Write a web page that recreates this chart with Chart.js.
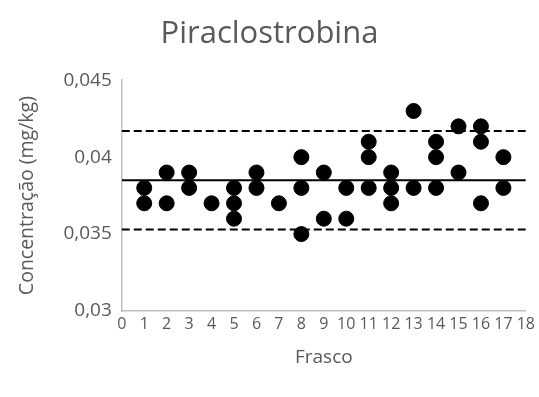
<!DOCTYPE html>
<html>
<head>
<meta charset="utf-8">
<script src="https://cdn.jsdelivr.net/npm/chart.js@4"></script>
<style>
  body { margin: 0; background: #fff; }
  #wrap { width: 539px; height: 397px; }
</style>
</head>
<body>
<div id="wrap"><canvas id="myChart"></canvas></div>
<script>
let frascos = [1, 1, 2, 2, 3, 3, 4, 5, 5, 5, 6, 6, 7, 8, 8, 8, 9, 9, 10, 10, 11, 11, 11, 12, 12, 12, 13, 13, 14, 14, 14, 15, 15, 16, 16, 16, 17, 17];
let concentracoes = [0.038, 0.037, 0.039, 0.037, 0.039, 0.038, 0.037, 0.038, 0.037, 0.036, 0.039, 0.038, 0.037, 0.040, 0.038, 0.035, 0.039, 0.036, 0.038, 0.036, 0.041, 0.040, 0.038, 0.039, 0.038, 0.037, 0.043, 0.038, 0.041, 0.040, 0.038, 0.042, 0.039, 0.042, 0.041, 0.037, 0.040, 0.038];
let media = 0.0385;
let limiteSup = 0.0417;
let limiteInf = 0.0353;
let xRange = [0, 18];

let pontos = frascos.map((f, i) => ({ x: f, y: concentracoes[i] }));
let linha = (v) => xRange.map(x => ({ x: x, y: v }));

let font = "'Open Sans', sans-serif";
let grey = '#595959';

let ctx = document.getElementById('myChart').getContext('2d');
let myChart = new Chart(ctx, {
  type: 'scatter',
  data: {
    datasets: [{
      label: 'Concentração',
      data: pontos,
      backgroundColor: '#000',
      borderColor: '#000',
      pointRadius: 7.5,
      pointHoverRadius: 7.5
    }, {
      label: 'Média',
      type: 'line',
      data: linha(media),
      borderColor: '#000',
      borderWidth: 2,
      pointRadius: 0,
      fill: false
    }, {
      label: 'Limite superior',
      type: 'line',
      data: linha(limiteSup),
      borderColor: '#000',
      borderWidth: 2,
      borderDash: [8, 4],
      pointRadius: 0,
      fill: false
    }, {
      label: 'Limite inferior',
      type: 'line',
      data: linha(limiteInf),
      borderColor: '#000',
      borderWidth: 2,
      borderDash: [8, 4],
      pointRadius: 0,
      fill: false
    }]
  },
  options: {
    responsive: true,
    maintainAspectRatio: false,
    animation: false,
    layout: {
      padding: { top: 16, right: 0, left: 0, bottom: 24 }
    },
    plugins: {
      legend: { display: false },
      tooltip: { enabled: false },
      title: {
        display: true,
        text: 'Piraclostrobina',
        color: grey,
        font: { family: font, size: 31, weight: 'normal' },
        padding: { top: 0, bottom: 27 }
      }
    },
    scales: {
      x: {
        type: 'linear',
        min: 0,
        max: 18,
        grid: { display: false, drawTicks: false },
        border: { color: '#bfbfbf', width: 1.5 },
        ticks: {
          stepSize: 1,
          autoSkip: false,
          maxRotation: 0,
          minRotation: 0,
          color: grey,
          padding: 4,
          font: { family: font, size: 16 }
        },
        title: {
          display: true,
          text: 'Frasco',
          color: grey,
          padding: { top: 8 },
          font: { family: font, size: 19 }
        }
      },
      y: {
        min: 0.03,
        max: 0.045,
        grid: { display: false, drawTicks: false },
        border: { color: '#bfbfbf', width: 1.5 },
        ticks: {
          stepSize: 0.005,
          color: grey,
          padding: 10,
          font: { family: font, size: 19 },
          callback: (value) => String(+value.toFixed(3)).replace('.', ',')
        },
        title: {
          display: true,
          text: 'Concentração (mg/kg)',
          color: grey,
          padding: { top: 16, bottom: 14 },
          font: { family: font, size: 19.5 }
        }
      }
    }
  }
});
</script>
</body>
</html>
